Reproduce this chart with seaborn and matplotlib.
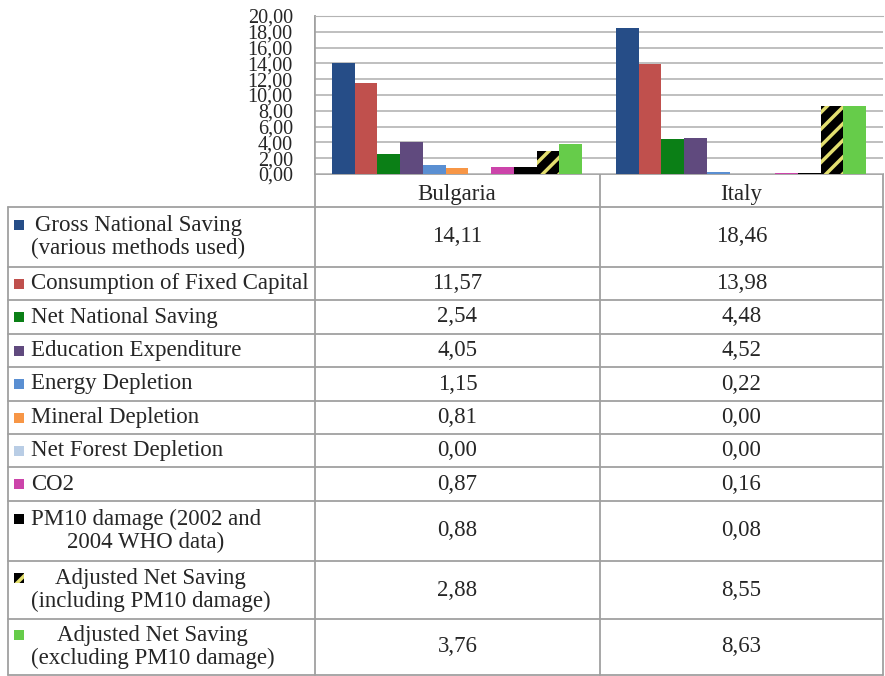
import matplotlib
matplotlib.use("Agg")
import matplotlib.pyplot as plt
import numpy as np
import pandas as pd
import seaborn as sns

#%% Data
countries = ["Bulgaria", "Italy"]
series = [
    "Gross National Saving\n(various methods used)",
    "Consumption of Fixed Capital",
    "Net National Saving",
    "Education Expenditure",
    "Energy Depletion",
    "Mineral Depletion",
    "Net Forest Depletion",
    "CO2",
    "PM10 damage (2002 and\n2004 WHO data)",
    "Adjusted Net Saving\n(including PM10 damage)",
    "Adjusted Net Saving\n(excluding PM10 damage)",
]
bulgaria = [14.11, 11.57, 2.54, 4.05, 1.15, 0.81, 0.00, 0.87, 0.88, 2.88, 3.76]
italy = [18.46, 13.98, 4.48, 4.52, 0.22, 0.00, 0.00, 0.16, 0.08, 8.55, 8.63]
colors = ["#264d87", "#c0504d", "#0b7f16", "#604a7e", "#5a8fd2", "#f79646",
          "#b9cde5", "#cc44aa", "#000000", "#000000", "#66cc4a"]
y_ticks = np.arange(0, 21, 2)

df = pd.DataFrame({
    "country": np.repeat(countries, len(series)),
    "series": series * len(countries),
    "value": bulgaria + italy,
})

#%% Figure
sns.set_style("white")
plt.rcParams["font.family"] = ["Liberation Serif", "DejaVu Serif"]
plt.rcParams["hatch.linewidth"] = 2.5

W, H = 885, 676
fig = plt.figure(figsize=(W / 100, H / 100), dpi=100)

# pixel helpers for the layout
x_left, x_mid, x_right, x_cat = 8, 600, 883, 315
y_top, y_zero, y_head = 16, 174, 207
fs = 16.5

ax = fig.add_axes([x_cat / W, 1 - y_zero / H, (x_right - x_cat) / W, (y_zero - y_top) / H])
sns.barplot(data=df, x="country", y="value", hue="series", hue_order=series,
            palette=colors, saturation=1, width=0.88, linewidth=0, legend=False, ax=ax)

# hatched "including PM10" bars
for bar in ax.containers[9]:
    bar.set_hatch("//")
    bar.set_edgecolor("#e3df70")
    bar.set_linewidth(0)

ax.set_ylim(0, 20)
ax.set_xlim(-0.5, 1.5)
ax.set_yticks(y_ticks)
ax.set_yticklabels([f"{v:.2f}".replace(".", ",") for v in y_ticks], fontsize=14.5)
ax.yaxis.grid(True, color="#b4b4b4", linewidth=1.2)
ax.set_axisbelow(True)
ax.tick_params(axis="y", length=0, pad=16)
ax.tick_params(axis="x", length=0, pad=7, labelsize=fs)
ax.set_xlabel("")
ax.set_ylabel("")
for s in ["right", "bottom"]:
    ax.spines[s].set_visible(False)
ax.spines["top"].set_color("#b4b4b4")
ax.spines["left"].set_color("#a0a0a0")
ax.spines["left"].set_linewidth(1.2)

#%% Data table below the chart
tab = fig.add_axes([0, 0, 1, 1], zorder=-1)
tab.set_xlim(0, W)
tab.set_ylim(H, 0)
tab.axis("off")

line_kw = dict(color="#a0a0a0", linewidth=1.3)
row_edges = [207, 267, 300, 334, 367, 401, 434, 467, 501, 561, 619, 675]

# header row
tab.plot([x_cat, x_right], [y_zero, y_zero], **line_kw)
for x in [x_cat, x_mid, x_right]:
    tab.plot([x, x], [y_zero, row_edges[-1]], **line_kw)
tab.plot([x_cat, x_cat], [y_top, y_zero], **line_kw)
tab.plot([x_left, x_left], [y_head, row_edges[-1]], **line_kw)
for y in row_edges:
    tab.plot([x_left, x_right], [y, y], **line_kw)

for i, name in enumerate(series):
    top, bot = row_edges[i], row_edges[i + 1]
    yc = (top + bot) / 2
    multi = "\n" in name
    first_line = yc - 12.5 if multi else yc
    tab.text(31, yc, name, ha="left", va="center", multialignment="center",
             fontsize=fs, linespacing=1.08)
    marker = plt.Rectangle((14, first_line - 5), 10, 10, facecolor=colors[i],
                           edgecolor="#e3df70" if i == 9 else "none",
                           hatch="//" if i == 9 else None, linewidth=0)
    tab.add_patch(marker)
    tab.text((x_cat + x_mid) / 2, yc, f"{bulgaria[i]:.2f}".replace(".", ","),
             ha="center", va="center", fontsize=fs)
    tab.text((x_mid + x_right) / 2, yc, f"{italy[i]:.2f}".replace(".", ","),
             ha="center", va="center", fontsize=fs)

fig.savefig("out.png", dpi=100)
